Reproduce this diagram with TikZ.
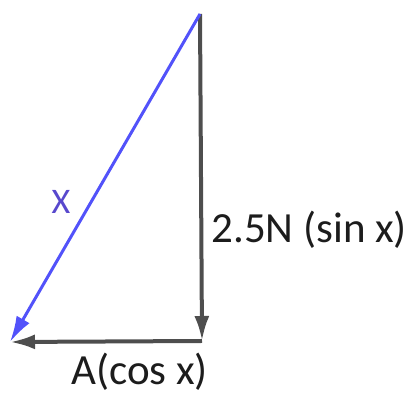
\documentclass[tikz,border=0pt]{standalone}
\usepackage{fontspec}
\setmainfont{Carlito}
\usetikzlibrary{arrows.meta}
\definecolor{vecblue}{RGB}{82,82,250}
\definecolor{vecgray}{RGB}{78,78,78}
\definecolor{xblue}{RGB}{88,72,205}
\definecolor{labeltext}{RGB}{28,28,28}
\tikzset{
  vec/.style={-{Latex[length=12.5pt,width=7.5pt]},line width=2pt,draw=vecgray},
  hyp/.style={-{Latex[length=13pt,width=7.5pt]},line width=1.5pt,draw=vecblue},
  lbl/.style={inner sep=0pt,text=labeltext,font=\fontsize{21.5}{25}\selectfont}
}
\begin{document}
\begin{tikzpicture}[x=0.5pt,y=-0.5pt]
        \useasboundingbox (0,0) rectangle (407,394);
        \coordinate (top) at (200,14);
        \coordinate (corner) at (202,341);
        \coordinate (left) at (10,342);
        \draw[vec] (top) -- (corner);
        \draw[vec] (corner) -- (left);
        \draw[hyp] (top) -- (left);
        \node[lbl,anchor=base west] (sinlabel) at (211,243) {2.5N (sin x)};
        \node[lbl,anchor=base west] (coslabel) at (71,385) {A(cos x)};
        \node[lbl,text=xblue,font=\fontsize{18}{22}\selectfont] (xlabel) at (61,202) {X};
    \end{tikzpicture}
\end{document}
